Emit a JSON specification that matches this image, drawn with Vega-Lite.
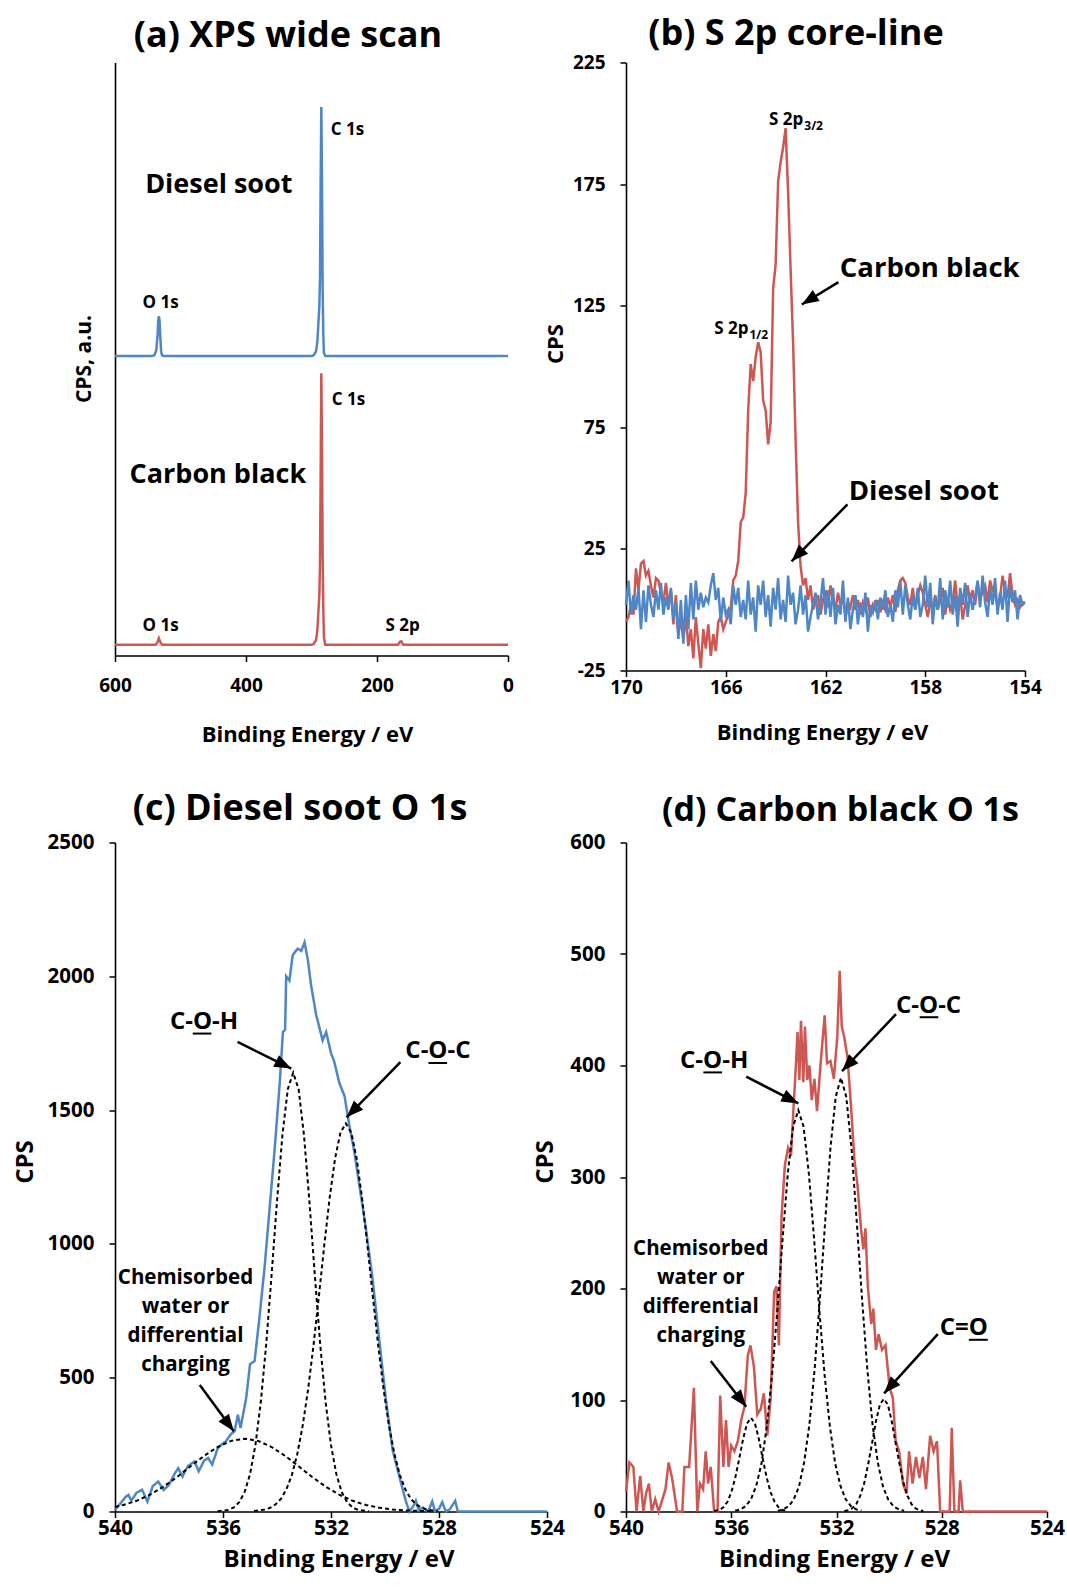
{
  "$schema": "https://vega.github.io/schema/vega-lite/v6.json",
  "background": "white",
  "padding": {"left": 13, "top": 15.5, "right": 10, "bottom": 10},
  "bounds": "flush",
  "columns": 2,
  "spacing": {"row": 172, "column": 79},
  "config": {
    "view": {"stroke": null},
    "axis": {"domainColor": "#000000", "domainWidth": 1.6, "tickColor": "#000000", "tickWidth": 1.5, "tickSize": 6, "labelFont": "Open Sans", "labelFontWeight": "bold", "labelColor": "#000000", "labelPadding": 15, "labelFlush": false, "labelOverlap": false, "titleFont": "Open Sans", "titleFontWeight": "bold", "titleColor": "#000000", "titleBaseline": "middle", "grid": false},
    "title": {"font": "Open Sans", "fontWeight": "bold", "color": "#000000", "fontSize": 36, "frame": "group", "anchor": "middle", "baseline": "middle"}
  },
  "datasets": {
    "aSoot": [{"e":600,"v":50.5},{"e":545,"v":50.5},{"e":540,"v":50.6},{"e":537,"v":51.5},{"e":535,"v":54},{"e":534,"v":56.5},{"e":533,"v":57.2},{"e":532,"v":56.5},{"e":531,"v":54},{"e":529.5,"v":51.2},{"e":528,"v":50.6},{"e":525,"v":50.5},{"e":300,"v":50.5},{"e":297,"v":50.6},{"e":293,"v":51.3},{"e":291,"v":53},{"e":289.5,"v":56},{"e":288,"v":59},{"e":287,"v":64},{"e":286,"v":80},{"e":285,"v":92.5},{"e":284,"v":80},{"e":283,"v":62},{"e":282,"v":54},{"e":281,"v":51},{"e":279,"v":50.5},{"e":0,"v":50.5}],
    "aBlack": [{"e":600,"v":1.8},{"e":538,"v":1.8},{"e":535,"v":2.3},{"e":533,"v":2.9},{"e":531,"v":2.3},{"e":528,"v":1.8},{"e":300,"v":1.8},{"e":297,"v":1.9},{"e":293,"v":2.6},{"e":291,"v":4.3},{"e":289.5,"v":7.3},{"e":288,"v":10.3},{"e":287,"v":15.3},{"e":286,"v":31},{"e":285,"v":47.6},{"e":284,"v":35},{"e":283,"v":17},{"e":282,"v":8},{"e":281,"v":3},{"e":279,"v":1.8},{"e":168,"v":1.8},{"e":165,"v":2.3},{"e":163,"v":2.4},{"e":160,"v":1.8},{"e":0,"v":1.8}],
    "bBlue": [{"e":170.0,"v":2},{"e":169.9,"v":12},{"e":169.8,"v":-2},{"e":169.7,"v":6},{"e":169.6,"v":0},{"e":169.5,"v":9},{"e":169.4,"v":-8},{"e":169.3,"v":8},{"e":169.2,"v":-5},{"e":169.1,"v":10},
      {"e":169.0,"v":2},{"e":168.9,"v":-3},{"e":168.8,"v":8},{"e":168.7,"v":0},{"e":168.6,"v":11},{"e":168.5,"v":-2},{"e":168.4,"v":5},{"e":168.3,"v":0},{"e":168.2,"v":9},{"e":168.1,"v":-4},
      {"e":168.0,"v":3},{"e":167.9,"v":-12},{"e":167.8,"v":4},{"e":167.7,"v":-14},{"e":167.6,"v":6},{"e":167.5,"v":-8},{"e":167.4,"v":11},{"e":167.3,"v":-4},{"e":167.2,"v":12},{"e":167.1,"v":0},
      {"e":167.0,"v":7},{"e":166.9,"v":1},{"e":166.8,"v":5},{"e":166.7,"v":3},{"e":166.6,"v":10},{"e":166.5,"v":15},{"e":166.4,"v":4},{"e":166.3,"v":9},{"e":166.2,"v":-5},{"e":166.1,"v":5},
      {"e":166.0,"v":-2},{"e":165.9,"v":0},{"e":165.8,"v":-6},{"e":165.7,"v":10},{"e":165.6,"v":2},{"e":165.5,"v":9},{"e":165.4,"v":-3},{"e":165.3,"v":4},{"e":165.2,"v":-4},{"e":165.1,"v":12},
      {"e":165.0,"v":-2},{"e":164.9,"v":5},{"e":164.8,"v":-9},{"e":164.7,"v":10},{"e":164.6,"v":2},{"e":164.5,"v":12},{"e":164.4,"v":-3},{"e":164.3,"v":6},{"e":164.2,"v":-7},{"e":164.1,"v":9},
      {"e":164.0,"v":0},{"e":163.9,"v":13},{"e":163.8,"v":-4},{"e":163.7,"v":4},{"e":163.6,"v":-5},{"e":163.5,"v":14},{"e":163.4,"v":2},{"e":163.3,"v":7},{"e":163.2,"v":-6},{"e":163.1,"v":0},
      {"e":163.0,"v":10},{"e":162.9,"v":-2},{"e":162.8,"v":6},{"e":162.7,"v":-9},{"e":162.6,"v":-3},{"e":162.5,"v":2},{"e":162.4,"v":7},{"e":162.3,"v":-4},{"e":162.2,"v":3},{"e":162.1,"v":13},
      {"e":162.0,"v":-2},{"e":161.9,"v":8},{"e":161.8,"v":-3},{"e":161.7,"v":9},{"e":161.6,"v":-6},{"e":161.5,"v":2},{"e":161.4,"v":-2},{"e":161.3,"v":12},{"e":161.2,"v":-5},{"e":161.1,"v":5},
      {"e":161.0,"v":-8},{"e":160.9,"v":0},{"e":160.8,"v":6},{"e":160.7,"v":-6},{"e":160.6,"v":3},{"e":160.5,"v":-3},{"e":160.4,"v":7},{"e":160.3,"v":-9},{"e":160.2,"v":2},{"e":160.1,"v":-1},
      {"e":160.0,"v":4},{"e":159.9,"v":-4},{"e":159.8,"v":5},{"e":159.7,"v":0},{"e":159.6,"v":8},{"e":159.5,"v":-3},{"e":159.4,"v":2},{"e":159.3,"v":-5},{"e":159.2,"v":8},{"e":159.1,"v":1},
      {"e":159.0,"v":12},{"e":158.9,"v":-2},{"e":158.8,"v":10},{"e":158.7,"v":2},{"e":158.6,"v":-4},{"e":158.5,"v":6},{"e":158.4,"v":0},{"e":158.3,"v":9},{"e":158.2,"v":-3},{"e":158.1,"v":2},
      {"e":158.0,"v":14},{"e":157.9,"v":1},{"e":157.8,"v":11},{"e":157.7,"v":-6},{"e":157.6,"v":5},{"e":157.5,"v":0},{"e":157.4,"v":13},{"e":157.3,"v":-4},{"e":157.2,"v":8},{"e":157.1,"v":1},
      {"e":157.0,"v":12},{"e":156.9,"v":-2},{"e":156.8,"v":6},{"e":156.7,"v":-7},{"e":156.6,"v":9},{"e":156.5,"v":2},{"e":156.4,"v":11},{"e":156.3,"v":-3},{"e":156.2,"v":7},{"e":156.1,"v":0},
      {"e":156.0,"v":5},{"e":155.9,"v":12},{"e":155.8,"v":1},{"e":155.7,"v":14},{"e":155.6,"v":3},{"e":155.5,"v":-3},{"e":155.4,"v":9},{"e":155.3,"v":2},{"e":155.2,"v":13},{"e":155.1,"v":-2},
      {"e":155.0,"v":7},{"e":154.9,"v":0},{"e":154.8,"v":12},{"e":154.7,"v":-5},{"e":154.6,"v":10},{"e":154.5,"v":3},{"e":154.4,"v":8},{"e":154.3,"v":-4},{"e":154.2,"v":6},{"e":154.1,"v":2},
      {"e":154.0,"v":3}],
    "bRed": [{"e":170.0,"v":-5},{"e":169.9,"v":-3},{"e":169.8,"v":2},{"e":169.7,"v":-2},{"e":169.6,"v":17},{"e":169.5,"v":8},{"e":169.4,"v":19},{"e":169.3,"v":20},{"e":169.2,"v":14},{"e":169.1,"v":16},
      {"e":169.0,"v":10},{"e":168.9,"v":5},{"e":168.8,"v":13},{"e":168.7,"v":12},{"e":168.6,"v":7},{"e":168.5,"v":3},{"e":168.4,"v":11},{"e":168.3,"v":2},{"e":168.2,"v":8},{"e":168.1,"v":-6},
      {"e":168.0,"v":6},{"e":167.9,"v":-10},{"e":167.8,"v":-4},{"e":167.7,"v":-12},{"e":167.6,"v":-2},{"e":167.5,"v":-15},{"e":167.4,"v":-8},{"e":167.3,"v":-20},{"e":167.2,"v":-3},{"e":167.1,"v":-14},
      {"e":167.0,"v":-24},{"e":166.9,"v":-8},{"e":166.8,"v":-16},{"e":166.7,"v":-6},{"e":166.6,"v":-19},{"e":166.5,"v":-10},{"e":166.4,"v":-17},{"e":166.3,"v":-5},{"e":166.2,"v":-3},{"e":166.1,"v":-8},
      {"e":166.0,"v":-5},{"e":165.9,"v":-2},{"e":165.8,"v":1},{"e":165.7,"v":12},{"e":165.6,"v":14},{"e":165.5,"v":20},{"e":165.4,"v":36},{"e":165.3,"v":38},{"e":165.2,"v":48},{"e":165.1,"v":82},
      {"e":165.0,"v":101},{"e":164.9,"v":94},{"e":164.8,"v":104},{"e":164.7,"v":110},{"e":164.6,"v":106},{"e":164.5,"v":86},{"e":164.4,"v":82},{"e":164.3,"v":68},{"e":164.2,"v":77},{"e":164.1,"v":132},
      {"e":164.0,"v":142},{"e":163.9,"v":176},{"e":163.8,"v":184},{"e":163.7,"v":190},{"e":163.6,"v":198},{"e":163.5,"v":172},{"e":163.4,"v":140},{"e":163.3,"v":110},{"e":163.2,"v":70},{"e":163.1,"v":36},
      {"e":163.0,"v":18},{"e":162.9,"v":10},{"e":162.8,"v":13},{"e":162.7,"v":4},{"e":162.6,"v":10},{"e":162.5,"v":0},{"e":162.4,"v":3},{"e":162.3,"v":6},{"e":162.2,"v":-2},{"e":162.1,"v":4},
      {"e":162.0,"v":8},{"e":161.9,"v":1},{"e":161.8,"v":10},{"e":161.7,"v":4},{"e":161.6,"v":0},{"e":161.5,"v":7},{"e":161.4,"v":2},{"e":161.3,"v":5},{"e":161.2,"v":-3},{"e":161.1,"v":3},
      {"e":161.0,"v":1},{"e":160.9,"v":6},{"e":160.8,"v":0},{"e":160.7,"v":4},{"e":160.6,"v":-2},{"e":160.5,"v":3},{"e":160.4,"v":0},{"e":160.3,"v":5},{"e":160.2,"v":-3},{"e":160.1,"v":2},
      {"e":160.0,"v":0},{"e":159.9,"v":4},{"e":159.8,"v":-1},{"e":159.7,"v":3},{"e":159.6,"v":0},{"e":159.5,"v":5},{"e":159.4,"v":1},{"e":159.3,"v":6},{"e":159.2,"v":-1},{"e":159.1,"v":8},
      {"e":159.0,"v":12},{"e":158.9,"v":13},{"e":158.8,"v":11},{"e":158.7,"v":5},{"e":158.6,"v":2},{"e":158.5,"v":9},{"e":158.4,"v":0},{"e":158.3,"v":6},{"e":158.2,"v":10},{"e":158.1,"v":7},
      {"e":158.0,"v":2},{"e":157.9,"v":-3},{"e":157.8,"v":3},{"e":157.7,"v":1},{"e":157.6,"v":6},{"e":157.5,"v":0},{"e":157.4,"v":4},{"e":157.3,"v":9},{"e":157.2,"v":-2},{"e":157.1,"v":5},
      {"e":157.0,"v":0},{"e":156.9,"v":3},{"e":156.8,"v":12},{"e":156.7,"v":1},{"e":156.6,"v":6},{"e":156.5,"v":-4},{"e":156.4,"v":2},{"e":156.3,"v":10},{"e":156.2,"v":3},{"e":156.1,"v":8},
      {"e":156.0,"v":2},{"e":155.9,"v":11},{"e":155.8,"v":4},{"e":155.7,"v":8},{"e":155.6,"v":10},{"e":155.5,"v":3},{"e":155.4,"v":12},{"e":155.3,"v":8},{"e":155.2,"v":6},{"e":155.1,"v":1},
      {"e":155.0,"v":5},{"e":154.9,"v":14},{"e":154.8,"v":8},{"e":154.7,"v":5},{"e":154.6,"v":15},{"e":154.5,"v":6},{"e":154.4,"v":2},{"e":154.3,"v":4},{"e":154.2,"v":1},{"e":154.1,"v":3},
      {"e":154.0,"v":3}],
    "cBlue": [{"e":540.0,"v":6},{"e":539.8,"v":30},{"e":539.6,"v":55},{"e":539.5,"v":62},{"e":539.4,"v":40},{"e":539.2,"v":70},{"e":539.0,"v":81},{"e":538.9,"v":60},{"e":538.8,"v":37},{"e":538.6,"v":95},{"e":538.4,"v":112},{"e":538.2,"v":80},{"e":538.0,"v":100},{"e":537.8,"v":140},{"e":537.66,"v":162},{"e":537.5,"v":131},{"e":537.3,"v":170},{"e":537.05,"v":187},{"e":536.9,"v":150},{"e":536.7,"v":190},{"e":536.55,"v":200},{"e":536.4,"v":175},{"e":536.2,"v":235},{"e":536.06,"v":250},{"e":535.9,"v":262},{"e":535.7,"v":290},{"e":535.57,"v":300},{"e":535.45,"v":362},{"e":535.35,"v":312},{"e":535.14,"v":425},{"e":535.0,"v":550},{"e":534.83,"v":562},{"e":534.65,"v":725},{"e":534.46,"v":912},{"e":534.28,"v":1125},{"e":534.09,"v":1350},{"e":533.9,"v":1600},{"e":533.78,"v":1792},{"e":533.7,"v":1800},{"e":533.66,"v":2000},{"e":533.54,"v":1984},{"e":533.42,"v":2079},{"e":533.3,"v":2095},{"e":533.23,"v":2103},{"e":533.1,"v":2095},{"e":532.98,"v":2127},{"e":532.86,"v":2063},{"e":532.74,"v":1968},{"e":532.55,"v":1856},{"e":532.43,"v":1808},{"e":532.31,"v":1761},{"e":532.18,"v":1792},{"e":532.0,"v":1713},{"e":531.88,"v":1681},{"e":531.69,"v":1601},{"e":531.5,"v":1553},{"e":531.32,"v":1442},{"e":531.14,"v":1346},{"e":530.95,"v":1219},{"e":530.71,"v":1060},{"e":530.46,"v":868},{"e":530.2,"v":629},{"e":529.97,"v":422},{"e":529.72,"v":231},{"e":529.48,"v":135},{"e":529.23,"v":40},{"e":529.1,"v":0},{"e":528.95,"v":20},{"e":528.86,"v":40},{"e":528.75,"v":5},{"e":528.6,"v":15},{"e":528.4,"v":0},{"e":528.25,"v":38},{"e":528.15,"v":2},{"e":528.0,"v":10},{"e":527.88,"v":35},{"e":527.75,"v":0},{"e":527.6,"v":8},{"e":527.4,"v":40},{"e":527.3,"v":0},{"e":524.0,"v":0}],
    "cComp": [
      {"c":"coh","e":536.2,"v":1},{"c":"coh","e":535.8,"v":6},{"c":"coh","e":535.6,"v":15},{"c":"coh","e":535.4,"v":35},{"c":"coh","e":535.2,"v":72},{"c":"coh","e":535.0,"v":139},{"c":"coh","e":534.8,"v":248},{"c":"coh","e":534.6,"v":409},{"c":"coh","e":534.4,"v":625},{"c":"coh","e":534.2,"v":885},{"c":"coh","e":534.0,"v":1159},{"c":"coh","e":533.8,"v":1406},{"c":"coh","e":533.6,"v":1578},{"c":"coh","e":533.4,"v":1640},{"c":"coh","e":533.2,"v":1578},{"c":"coh","e":533.0,"v":1406},{"c":"coh","e":532.8,"v":1159},{"c":"coh","e":532.6,"v":885},{"c":"coh","e":532.4,"v":625},{"c":"coh","e":532.2,"v":409},{"c":"coh","e":532.0,"v":248},{"c":"coh","e":531.8,"v":139},{"c":"coh","e":531.6,"v":72},{"c":"coh","e":531.4,"v":35},{"c":"coh","e":531.2,"v":15},{"c":"coh","e":531.0,"v":6},{"c":"coh","e":530.6,"v":1},
      {"c":"coc","e":534.85,"v":2},{"c":"coc","e":534.45,"v":7},{"c":"coc","e":534.25,"v":14},{"c":"coc","e":534.05,"v":27},{"c":"coc","e":533.85,"v":48},{"c":"coc","e":533.65,"v":83},{"c":"coc","e":533.45,"v":136},{"c":"coc","e":533.25,"v":214},{"c":"coc","e":533.05,"v":320},{"c":"coc","e":532.85,"v":455},{"c":"coc","e":532.65,"v":619},{"c":"coc","e":532.45,"v":803},{"c":"coc","e":532.25,"v":994},{"c":"coc","e":532.05,"v":1172},{"c":"coc","e":531.85,"v":1319},{"c":"coc","e":531.65,"v":1416},{"c":"coc","e":531.45,"v":1450},{"c":"coc","e":531.25,"v":1416},{"c":"coc","e":531.05,"v":1319},{"c":"coc","e":530.85,"v":1172},{"c":"coc","e":530.65,"v":994},{"c":"coc","e":530.45,"v":803},{"c":"coc","e":530.25,"v":619},{"c":"coc","e":530.05,"v":455},{"c":"coc","e":529.85,"v":320},{"c":"coc","e":529.65,"v":214},{"c":"coc","e":529.45,"v":136},{"c":"coc","e":529.25,"v":83},{"c":"coc","e":529.05,"v":48},{"c":"coc","e":528.85,"v":27},{"c":"coc","e":528.65,"v":14},{"c":"coc","e":528.45,"v":7},{"c":"coc","e":528.05,"v":2},
      {"c":"wat","e":540.0,"v":17},{"c":"wat","e":539.7,"v":24},{"c":"wat","e":539.2,"v":40},{"c":"wat","e":538.7,"v":63},{"c":"wat","e":538.2,"v":93},{"c":"wat","e":537.7,"v":129},{"c":"wat","e":537.2,"v":169},{"c":"wat","e":536.7,"v":208},{"c":"wat","e":536.2,"v":241},{"c":"wat","e":535.7,"v":264},{"c":"wat","e":535.2,"v":272},{"c":"wat","e":534.7,"v":264},{"c":"wat","e":534.2,"v":241},{"c":"wat","e":533.7,"v":208},{"c":"wat","e":533.2,"v":169},{"c":"wat","e":532.7,"v":129},{"c":"wat","e":532.2,"v":93},{"c":"wat","e":531.7,"v":63},{"c":"wat","e":531.2,"v":40},{"c":"wat","e":530.7,"v":24},{"c":"wat","e":530.2,"v":14},{"c":"wat","e":529.7,"v":7},{"c":"wat","e":529.2,"v":4},{"c":"wat","e":528.7,"v":2},{"c":"wat","e":528.2,"v":1}],
    "dRed": [{"e":540.0,"v":18},{"e":539.87,"v":44},{"e":539.72,"v":40},{"e":539.6,"v":0},{"e":539.46,"v":32},{"e":539.34,"v":0},{"e":539.24,"v":16},{"e":539.13,"v":25},{"e":539.02,"v":0},{"e":538.89,"v":11},{"e":538.76,"v":0},{"e":538.5,"v":20},{"e":538.38,"v":44},{"e":538.25,"v":30},{"e":538.06,"v":0},{"e":537.86,"v":0},{"e":537.78,"v":40},{"e":537.6,"v":40},{"e":537.42,"v":111},{"e":537.29,"v":0},{"e":537.19,"v":25},{"e":537.07,"v":20},{"e":536.97,"v":54},{"e":536.88,"v":25},{"e":536.78,"v":40},{"e":536.65,"v":0},{"e":536.52,"v":0},{"e":536.42,"v":104},{"e":536.3,"v":40},{"e":536.2,"v":82},{"e":536.1,"v":40},{"e":536.0,"v":59},{"e":535.88,"v":54},{"e":535.75,"v":63},{"e":535.62,"v":82},{"e":535.5,"v":94},{"e":535.37,"v":140},{"e":535.27,"v":149},{"e":535.14,"v":130},{"e":535.01,"v":87},{"e":534.88,"v":92},{"e":534.76,"v":106},{"e":534.63,"v":68},{"e":534.5,"v":102},{"e":534.37,"v":197},{"e":534.28,"v":202},{"e":534.19,"v":149},{"e":534.09,"v":264},{"e":533.96,"v":311},{"e":533.84,"v":326},{"e":533.73,"v":319},{"e":533.64,"v":359},{"e":533.54,"v":402},{"e":533.48,"v":430},{"e":533.41,"v":387},{"e":533.35,"v":440},{"e":533.26,"v":385},{"e":533.2,"v":435},{"e":533.11,"v":387},{"e":533.03,"v":400},{"e":532.94,"v":369},{"e":532.84,"v":388},{"e":532.74,"v":359},{"e":532.62,"v":397},{"e":532.45,"v":445},{"e":532.36,"v":402},{"e":532.23,"v":404},{"e":532.1,"v":388},{"e":531.97,"v":426},{"e":531.88,"v":485},{"e":531.8,"v":435},{"e":531.71,"v":426},{"e":531.58,"v":407},{"e":531.45,"v":364},{"e":531.32,"v":316},{"e":531.2,"v":292},{"e":531.07,"v":254},{"e":530.98,"v":235},{"e":530.9,"v":254},{"e":530.81,"v":202},{"e":530.68,"v":168},{"e":530.6,"v":182},{"e":530.5,"v":145},{"e":530.4,"v":159},{"e":530.27,"v":145},{"e":530.14,"v":149},{"e":529.98,"v":111},{"e":529.86,"v":102},{"e":529.75,"v":63},{"e":529.62,"v":54},{"e":529.47,"v":25},{"e":529.34,"v":16},{"e":529.24,"v":54},{"e":529.11,"v":25},{"e":528.98,"v":49},{"e":528.85,"v":30},{"e":528.72,"v":49},{"e":528.6,"v":20},{"e":528.44,"v":68},{"e":528.31,"v":54},{"e":528.18,"v":63},{"e":528.06,"v":0},{"e":527.81,"v":0},{"e":527.7,"v":0},{"e":527.62,"v":75},{"e":527.52,"v":0},{"e":527.36,"v":0},{"e":527.3,"v":28},{"e":527.2,"v":0},{"e":524.0,"v":0}],
    "dComp": [
      {"c":"wat","e":536.65,"v":0.4},{"c":"wat","e":536.45,"v":1.4},{"c":"wat","e":536.3,"v":3.7},{"c":"wat","e":536.15,"v":8.5},{"c":"wat","e":536.0,"v":17},{"c":"wat","e":535.85,"v":30},{"c":"wat","e":535.7,"v":47},{"c":"wat","e":535.55,"v":65},{"c":"wat","e":535.4,"v":79},{"c":"wat","e":535.25,"v":84},{"c":"wat","e":535.1,"v":79},{"c":"wat","e":534.95,"v":65},{"c":"wat","e":534.8,"v":47},{"c":"wat","e":534.65,"v":30},{"c":"wat","e":534.5,"v":17},{"c":"wat","e":534.35,"v":8.5},{"c":"wat","e":534.2,"v":3.7},{"c":"wat","e":534.05,"v":1.4},{"c":"wat","e":533.85,"v":0.4},
      {"c":"coh","e":535.85,"v":0.7},{"c":"coh","e":535.65,"v":1.9},{"c":"coh","e":535.45,"v":4.8},{"c":"coh","e":535.25,"v":11},{"c":"coh","e":535.05,"v":23},{"c":"coh","e":534.85,"v":43},{"c":"coh","e":534.65,"v":76},{"c":"coh","e":534.45,"v":122},{"c":"coh","e":534.25,"v":180},{"c":"coh","e":534.05,"v":244},{"c":"coh","e":533.85,"v":303},{"c":"coh","e":533.65,"v":345},{"c":"coh","e":533.45,"v":360},{"c":"coh","e":533.25,"v":345},{"c":"coh","e":533.05,"v":303},{"c":"coh","e":532.85,"v":244},{"c":"coh","e":532.65,"v":180},{"c":"coh","e":532.45,"v":122},{"c":"coh","e":532.25,"v":76},{"c":"coh","e":532.05,"v":43},{"c":"coh","e":531.85,"v":23},{"c":"coh","e":531.65,"v":11},{"c":"coh","e":531.45,"v":4.8},{"c":"coh","e":531.25,"v":1.9},{"c":"coh","e":531.05,"v":0.7},
      {"c":"coc","e":534.23,"v":0.6},{"c":"coc","e":534.03,"v":1.8},{"c":"coc","e":533.83,"v":4.5},{"c":"coc","e":533.63,"v":10.5},{"c":"coc","e":533.43,"v":22},{"c":"coc","e":533.23,"v":44},{"c":"coc","e":533.03,"v":78},{"c":"coc","e":532.83,"v":128},{"c":"coc","e":532.63,"v":191},{"c":"coc","e":532.43,"v":260},{"c":"coc","e":532.23,"v":326},{"c":"coc","e":532.03,"v":372},{"c":"coc","e":531.83,"v":389},{"c":"coc","e":531.63,"v":372},{"c":"coc","e":531.43,"v":326},{"c":"coc","e":531.23,"v":260},{"c":"coc","e":531.03,"v":191},{"c":"coc","e":530.83,"v":128},{"c":"coc","e":530.63,"v":78},{"c":"coc","e":530.43,"v":44},{"c":"coc","e":530.23,"v":22},{"c":"coc","e":530.03,"v":10.5},{"c":"coc","e":529.83,"v":4.5},{"c":"coc","e":529.63,"v":1.8},{"c":"coc","e":529.43,"v":0.6},
      {"c":"co","e":531.7,"v":0.4},{"c":"co","e":531.55,"v":1.1},{"c":"co","e":531.4,"v":2.9},{"c":"co","e":531.25,"v":6.6},{"c":"co","e":531.1,"v":14},{"c":"co","e":530.95,"v":25},{"c":"co","e":530.8,"v":42},{"c":"co","e":530.65,"v":61},{"c":"co","e":530.5,"v":81},{"c":"co","e":530.35,"v":96},{"c":"co","e":530.2,"v":101},{"c":"co","e":530.05,"v":96},{"c":"co","e":529.9,"v":81},{"c":"co","e":529.75,"v":61},{"c":"co","e":529.6,"v":42},{"c":"co","e":529.45,"v":25},{"c":"co","e":529.3,"v":14},{"c":"co","e":529.15,"v":6.6},{"c":"co","e":529.0,"v":2.9},{"c":"co","e":528.85,"v":1.1},{"c":"co","e":528.7,"v":0.4}],
    "bArrows": [{"id":"cb","e":162.95,"v":125.5,"e2":161.48,"v2":134.7},{"id":"ds","e":163.36,"v":19.9,"e2":161.12,"v2":43.3}],
    "cArrows": [{"id":"coh","e":533.47,"v":1655,"e2":535.46,"v2":1755},{"id":"coc","e":531.42,"v":1473,"e2":529.43,"v2":1679},{"id":"wat","e":535.6,"v":300,"e2":536.86,"v2":473}],
    "dArrows": [{"id":"coh","e":533.45,"v":366,"e2":535.43,"v2":390},{"id":"coc","e":531.79,"v":395,"e2":529.74,"v2":446},{"id":"co","e":530.19,"v":106,"e2":528.15,"v2":159},{"id":"wat","e":535.43,"v":94,"e2":536.78,"v2":135}]
  },
  "concat": [
        {
          "width": 393, "height": 593,
          "title": {"text": "(a) XPS wide scan", "dx": -23.5, "offset": 7.5},
          "encoding": {
            "x": {"field": "e", "type": "quantitative", "scale": {"domain": [0, 600], "reverse": true, "nice": false, "zero": false}, "axis": {"title": "Binding Energy / eV", "values": [0, 200, 400, 600], "labelFontSize": 19, "titleFontSize": 22, "titleX": 192, "titleY": 79}},
            "y": {"field": "v", "type": "quantitative", "scale": {"domain": [0, 100], "nice": false, "zero": false}, "axis": {"title": "CPS, a.u.", "labels": false, "ticks": false, "titleFontSize": 21, "titleX": -31, "titleY": 296}}
          },
          "layer": [
            {"data": {"name": "aSoot"}, "mark": {"type": "line", "color": "#4F86C6", "strokeWidth": 2.5}},
            {"data": {"name": "aBlack"}, "mark": {"type": "line", "color": "#CD5753", "strokeWidth": 2.5}},
            {"data": {"values": [{"e": 441.5, "v": 79.3, "t": "Diesel soot"}, {"e": 443, "v": 30.5, "t": "Carbon black"}]}, "mark": {"type": "text", "font": "Open Sans", "fontWeight": "bold", "fontSize": 27, "color": "#000000", "align": "center", "baseline": "middle"}, "encoding": {"text": {"field": "t"}}},
            {"data": {"values": [{"e": 530.3, "v": 59.4, "t": "O 1s"}, {"e": 530.3, "v": 4.9, "t": "O 1s"}, {"e": 160.8, "v": 4.9, "t": "S 2p"}]}, "mark": {"type": "text", "font": "Open Sans", "fontWeight": "bold", "fontSize": 17, "color": "#000000", "align": "center", "baseline": "middle"}, "encoding": {"text": {"field": "t"}}},
            {"data": {"values": [{"e": 270.7, "v": 88.7, "t": "C 1s"}, {"e": 269.2, "v": 43.1, "t": "C 1s"}]}, "mark": {"type": "text", "font": "Open Sans", "fontWeight": "bold", "fontSize": 17, "color": "#000000", "align": "left", "baseline": "middle"}, "encoding": {"text": {"field": "t"}}}
          ]
        },
        {
          "width": 399, "height": 608,
          "title": {"text": "(b) S 2p core-line", "dx": -29.5, "offset": 1},
          "encoding": {
            "x": {"field": "e", "type": "quantitative", "scale": {"domain": [154, 170], "reverse": true, "nice": false, "zero": false}, "axis": {"title": "Binding Energy / eV", "values": [154, 158, 162, 166, 170], "labelFontSize": 19, "labelPadding": 1.5, "titleFontSize": 22, "titleX": 196, "titleY": 62}},
            "y": {"field": "v", "type": "quantitative", "scale": {"domain": [-25, 225], "nice": false, "zero": false}, "axis": {"title": "CPS", "values": [-25, 25, 75, 125, 175, 225], "labelExpr": "'' + datum.value", "labelFontSize": 19, "titleFontSize": 22, "titleX": -70.5, "titleY": 281}}
          },
          "layer": [
            {"data": {"name": "bRed"}, "mark": {"type": "line", "color": "#CD5753", "strokeWidth": 2.5}},
            {"data": {"name": "bBlue"}, "mark": {"type": "line", "color": "#4F86C6", "strokeWidth": 2.5}},
            {"data": {"name": "bArrows"}, "mark": {"type": "rule", "color": "#000000", "strokeWidth": 2.5}, "encoding": {"x2": {"field": "e2"}, "y2": {"field": "v2"}}},
            {"data": {"name": "bArrows"}, "transform": [{"filter": "datum.id === 'cb'"}], "mark": {"type": "point", "shape": "M0,0L-1.7,-0.65L-1.7,0.65Z", "filled": true, "color": "#000000", "opacity": 1, "size": 400, "angle": 148}},
            {"data": {"name": "bArrows"}, "transform": [{"filter": "datum.id === 'ds'"}], "mark": {"type": "point", "shape": "M0,0L-1.7,-0.65L-1.7,0.65Z", "filled": true, "color": "#000000", "opacity": 1, "size": 400, "angle": 134.5}},
            {"data": {"values": [{"e": 157.82, "v": 140.2, "t": "Carbon black"}, {"e": 158.06, "v": 48.3, "t": "Diesel soot"}]}, "mark": {"type": "text", "font": "Open Sans", "fontWeight": "bold", "fontSize": 27.5, "color": "#000000", "align": "center", "baseline": "middle"}, "encoding": {"text": {"field": "t"}}},
            {"data": {"values": [{"e": 162.89, "v": 201.5, "t": "S 2p"}, {"e": 165.09, "v": 115.6, "t": "S 2p"}]}, "mark": {"type": "text", "font": "Open Sans", "fontWeight": "bold", "fontSize": 17, "color": "#000000", "align": "right", "baseline": "middle"}, "encoding": {"text": {"field": "t"}}},
            {"data": {"values": [{"e": 162.89, "v": 201.5, "t": "3/2"}, {"e": 165.09, "v": 115.6, "t": "1/2"}]}, "mark": {"type": "text", "font": "Open Sans", "fontWeight": "bold", "fontSize": 12, "color": "#000000", "align": "left", "baseline": "middle", "dx": 1, "dy": 6}, "encoding": {"text": {"field": "t"}}}
          ]
        },
        {
          "width": 432, "height": 669,
          "title": {"text": "(c) Diesel soot O 1s", "dx": -31, "offset": 5},
          "encoding": {
            "x": {"field": "e", "type": "quantitative", "scale": {"domain": [524, 540], "reverse": true, "nice": false, "zero": false}, "axis": {"title": "Binding Energy / eV", "values": [524, 528, 532, 536, 540], "labelFontSize": 20.5, "labelPadding": 1, "titleFontSize": 24, "titleX": 223.5, "titleY": 47.5}},
            "y": {"field": "v", "type": "quantitative", "scale": {"domain": [0, 2500], "nice": false}, "axis": {"title": "CPS", "values": [0, 500, 1000, 1500, 2000, 2500], "format": "d", "labelFontSize": 20.5, "titleFontSize": 24, "titleX": -90, "titleY": 319}}
          },
          "layer": [
            {"data": {"name": "cBlue"}, "mark": {"type": "line", "color": "#4F86C6", "strokeWidth": 2.5}},
            {"data": {"name": "cComp"}, "mark": {"type": "line", "color": "#000000", "strokeWidth": 2, "strokeDash": [4, 3]}, "encoding": {"detail": {"field": "c"}}},
            {"data": {"name": "cArrows"}, "mark": {"type": "rule", "color": "#000000", "strokeWidth": 2.5}, "encoding": {"x2": {"field": "e2"}, "y2": {"field": "v2"}}},
            {"data": {"name": "cArrows"}, "transform": [{"filter": "datum.id === 'coh'"}], "mark": {"type": "point", "shape": "M0,0L-1.7,-0.65L-1.7,0.65Z", "filled": true, "color": "#000000", "opacity": 1, "size": 400, "angle": 26.5}},
            {"data": {"name": "cArrows"}, "transform": [{"filter": "datum.id === 'coc'"}], "mark": {"type": "point", "shape": "M0,0L-1.7,-0.65L-1.7,0.65Z", "filled": true, "color": "#000000", "opacity": 1, "size": 400, "angle": 134.3}},
            {"data": {"name": "cArrows"}, "transform": [{"filter": "datum.id === 'wat'"}], "mark": {"type": "point", "shape": "M0,0L-1.7,-0.65L-1.7,0.65Z", "filled": true, "color": "#000000", "opacity": 1, "size": 400, "angle": 53.6}},
            {"data": {"values": [{"e": 536.70, "v": 1828, "t": "C-O-H"}, {"e": 528.04, "v": 1719, "t": "C-O-C"}]}, "mark": {"type": "text", "font": "Open Sans", "fontWeight": "bold", "fontSize": 24, "color": "#000000", "align": "center", "baseline": "middle"}, "encoding": {"text": {"field": "t"}}},
            {"data": {"values": [{"e": 537.12, "e2": 536.43, "v": 1786}, {"e": 528.39, "e2": 527.70, "v": 1676}]}, "mark": {"type": "rule", "color": "#000000", "strokeWidth": 2}, "encoding": {"x2": {"field": "e2"}}},
            {"data": {"values": [{"e": 537.39, "v": 871, "t": "Chemisorbed\nwater or\ndifferential\ncharging"}]}, "mark": {"type": "text", "font": "Open Sans", "fontWeight": "bold", "fontSize": 20.5, "lineHeight": 29, "lineBreak": "\n", "color": "#000000", "align": "center", "baseline": "middle"}, "encoding": {"text": {"field": "t"}}}
          ]
        },
        {
          "width": 421, "height": 669,
          "title": {"text": "(d) Carbon black O 1s", "dx": 4, "offset": 5, "fontSize": 34},
          "encoding": {
            "x": {"field": "e", "type": "quantitative", "scale": {"domain": [524, 540], "reverse": true, "nice": false, "zero": false}, "axis": {"title": "Binding Energy / eV", "values": [524, 528, 532, 536, 540], "labelFontSize": 20.5, "labelPadding": 1, "titleFontSize": 24, "titleX": 208, "titleY": 47.5}},
            "y": {"field": "v", "type": "quantitative", "scale": {"domain": [0, 600], "nice": false}, "axis": {"title": "CPS", "values": [0, 100, 200, 300, 400, 500, 600], "format": "d", "labelFontSize": 20.5, "titleFontSize": 24, "titleX": -81, "titleY": 319}}
          },
          "layer": [
            {"data": {"name": "dRed"}, "mark": {"type": "line", "color": "#CD5753", "strokeWidth": 2.5}},
            {"data": {"name": "dComp"}, "mark": {"type": "line", "color": "#000000", "strokeWidth": 2, "strokeDash": [4, 3]}, "encoding": {"detail": {"field": "c"}}},
            {"data": {"name": "dArrows"}, "mark": {"type": "rule", "color": "#000000", "strokeWidth": 2.5}, "encoding": {"x2": {"field": "e2"}, "y2": {"field": "v2"}}},
            {"data": {"name": "dArrows"}, "transform": [{"filter": "datum.id === 'coh'"}], "mark": {"type": "point", "shape": "M0,0L-1.7,-0.65L-1.7,0.65Z", "filled": true, "color": "#000000", "opacity": 1, "size": 400, "angle": 27.2}},
            {"data": {"name": "dArrows"}, "transform": [{"filter": "datum.id === 'coc'"}], "mark": {"type": "point", "shape": "M0,0L-1.7,-0.65L-1.7,0.65Z", "filled": true, "color": "#000000", "opacity": 1, "size": 400, "angle": 133.5}},
            {"data": {"name": "dArrows"}, "transform": [{"filter": "datum.id === 'co'"}], "mark": {"type": "point", "shape": "M0,0L-1.7,-0.65L-1.7,0.65Z", "filled": true, "color": "#000000", "opacity": 1, "size": 400, "angle": 132.3}},
            {"data": {"name": "dArrows"}, "transform": [{"filter": "datum.id === 'wat'"}], "mark": {"type": "point", "shape": "M0,0L-1.7,-0.65L-1.7,0.65Z", "filled": true, "color": "#000000", "opacity": 1, "size": 400, "angle": 52.2}},
            {"data": {"values": [{"e": 536.65, "v": 404, "t": "C-O-H"}, {"e": 528.5, "v": 453.5, "t": "C-O-C"}, {"e": 527.16, "v": 164.5, "t": "C=O"}]}, "mark": {"type": "text", "font": "Open Sans", "fontWeight": "bold", "fontSize": 24, "color": "#000000", "align": "center", "baseline": "middle"}, "encoding": {"text": {"field": "t"}}},
            {"data": {"values": [{"e": 537.06, "e2": 536.35, "v": 393.8}, {"e": 528.84, "e2": 528.13, "v": 443.3}, {"e": 526.97, "e2": 526.25, "v": 154}]}, "mark": {"type": "rule", "color": "#000000", "strokeWidth": 2}, "encoding": {"x2": {"field": "e2"}}},
            {"data": {"values": [{"e": 537.16, "v": 235, "t": "Chemisorbed\nwater or\ndifferential\ncharging"}]}, "mark": {"type": "text", "font": "Open Sans", "fontWeight": "bold", "fontSize": 20.5, "lineHeight": 29, "lineBreak": "\n", "color": "#000000", "align": "center", "baseline": "middle"}, "encoding": {"text": {"field": "t"}}}
          ]
        }
  ]
}
